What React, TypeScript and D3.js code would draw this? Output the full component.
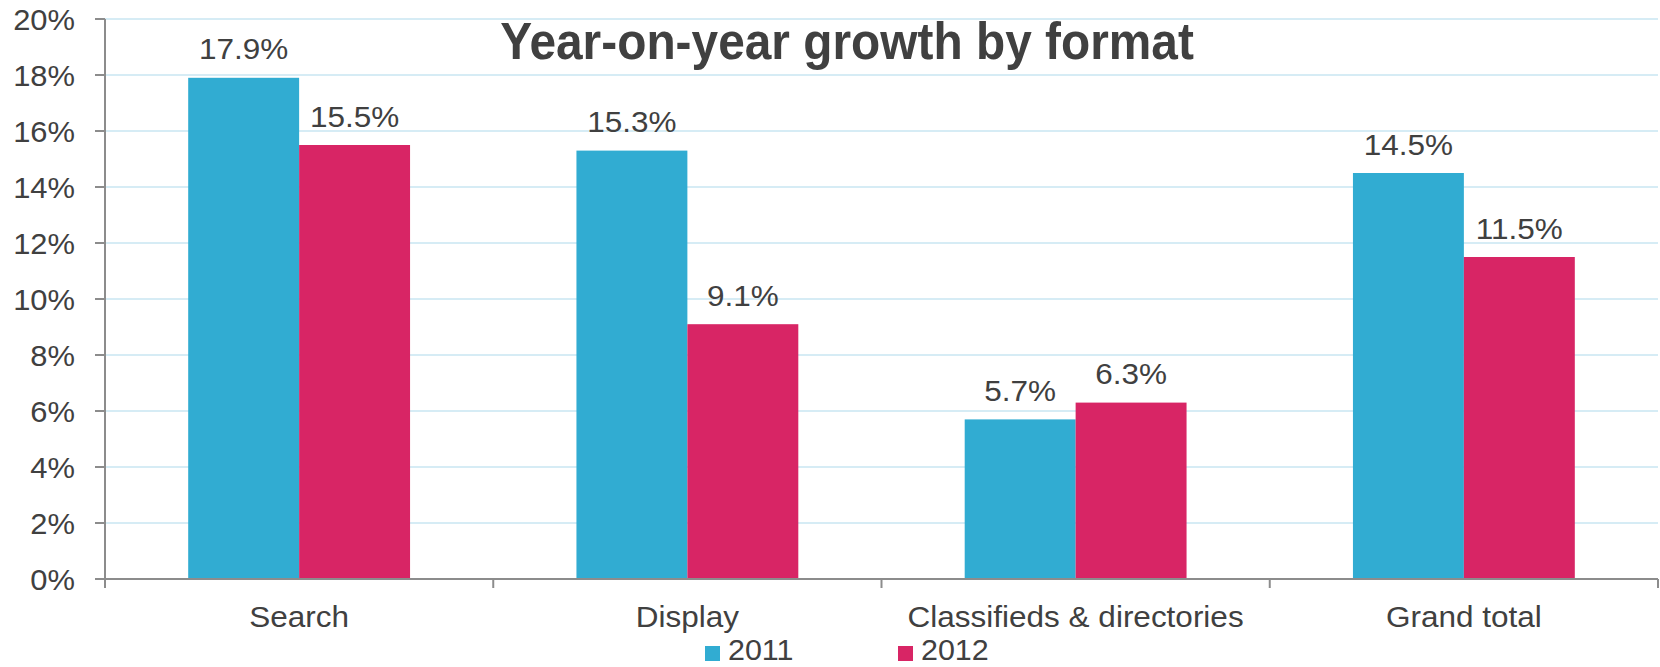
import React from "react";
import * as d3 from "d3";

const categories = ["Search", "Display", "Classifieds & directories", "Grand total"];
const seriesNames = ["2011", "2012"];
const values2011 = [17.9, 15.3, 5.7, 14.5];
const values2012 = [15.5, 9.1, 6.3, 11.5];
const yTicks = [0, 2, 4, 6, 8, 10, 12, 14, 16, 18, 20];
const colors = ["#31acd2", "#d82565"];
const title = "Year-on-year growth by format";

const W = 1660;
const H = 667;
const left = 105;
const right = 1658;
const top = 19;
const bottom = 579;
const textColor = "#404040";
const font = "'Liberation Sans', Arial, sans-serif";

type TProps = {
  x: number;
  y: number;
  sx?: number;
  size?: number;
  anchor?: "start" | "middle" | "end";
  bold?: boolean;
  children: React.ReactNode;
};

function T({ x, y, sx = 1.05, size = 30, anchor = "middle", bold = false, children }: TProps) {
  return (
    <text
      transform={`translate(${x},${y}) scale(${sx},1)`}
      textAnchor={anchor}
      fontSize={size}
      fontWeight={bold ? "bold" : "normal"}
      fill={textColor}
    >
      {children}
    </text>
  );
}

export default function App() {
  const x0 = d3.scaleBand<string>().domain(categories).range([left, right]).paddingInner(0).paddingOuter(0);
  const x1 = d3.scaleBand<string>().domain(seriesNames).range([0, x0.bandwidth()]).paddingInner(0).paddingOuter(0.75);
  const y = d3.scaleLinear().domain([0, 20]).range([bottom, top]);
  const seriesValues = [values2011, values2012];
  const boundaries = [left, ...categories.map((c) => (x0(c) as number) + x0.bandwidth())];

  return (
    <svg width={W} height={H} style={{ position: "absolute", left: 0, top: 0, background: "#fff" }} fontFamily={font}>
      {yTicks.filter((t) => t > 0).map((t) => (
        <line key={"g" + t} x1={left} x2={right} y1={y(t)} y2={y(t)} stroke="#d6ecf5" strokeWidth={2} />
      ))}
      {categories.map((c, ci) =>
        seriesNames.map((s, si) => {
          const v = seriesValues[si][ci];
          const bx = (x0(c) as number) + (x1(s) as number);
          return (
            <g key={c + s}>
              <rect x={bx} y={y(v)} width={x1.bandwidth()} height={bottom - y(v)} fill={colors[si]} />
              <T x={bx + x1.bandwidth() / 2} y={y(v) - 18.5}>
                {v.toFixed(1) + "%"}
              </T>
            </g>
          );
        })
      )}
      <line x1={left} x2={left} y1={top} y2={bottom} stroke="#8c8c8c" strokeWidth={2} />
      {yTicks.map((t) => (
        <g key={"t" + t}>
          <line x1={left - 10} x2={left} y1={y(t)} y2={y(t)} stroke="#8c8c8c" strokeWidth={2} />
          <T x={75} y={y(t) + 11} anchor="end" sx={1.03}>
            {t + "%"}
          </T>
        </g>
      ))}
      <line x1={left} x2={right} y1={bottom} y2={bottom} stroke="#8c8c8c" strokeWidth={2} />
      {boundaries.map((b, i) => (
        <line key={"b" + i} x1={b} x2={b} y1={bottom} y2={bottom + 9} stroke="#8c8c8c" strokeWidth={2} />
      ))}
      {categories.map((c) => (
        <T key={"l" + c} x={(x0(c) as number) + x0.bandwidth() / 2} y={627}>
          {c}
        </T>
      ))}
      <T x={847} y={59} size={52} sx={0.92} bold>
        {title}
      </T>
      {seriesNames.map((s, i) => {
        const lx = [705, 898][i];
        return (
          <g key={"lg" + s}>
            <rect x={lx} y={646} width={15} height={15} fill={colors[i]} />
            <T x={lx + 23} y={660} anchor="start" size={29}>
              {s}
            </T>
          </g>
        );
      })}
    </svg>
  );
}
